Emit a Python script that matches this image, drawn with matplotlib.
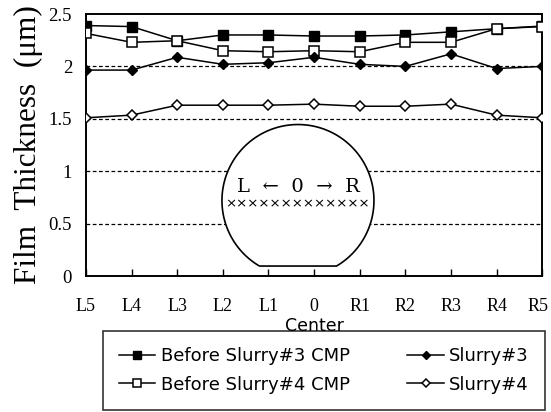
import matplotlib
matplotlib.use("Agg")
import matplotlib.pyplot as plt
import matplotlib.transforms as mtransforms
from matplotlib.patches import Polygon
import numpy as np

positions = ["L5", "L4", "L3", "L2", "L1", "0", "R1", "R2", "R3", "R4", "R5"]
before3 = [2.39, 2.38, 2.245, 2.30, 2.30, 2.29, 2.29, 2.30, 2.33, 2.36, 2.385]
before4 = [2.315, 2.23, 2.245, 2.15, 2.14, 2.15, 2.14, 2.23, 2.23, 2.36, 2.38]
slurry3 = [1.965, 1.965, 2.087, 2.02, 2.035, 2.087, 2.02, 2.0, 2.12, 1.98, 2.0]
slurry4 = [1.51, 1.535, 1.63, 1.63, 1.63, 1.64, 1.62, 1.62, 1.64, 1.535, 1.51]
yticks = [0, 0.5, 1, 1.5, 2, 2.5]
ytick_labels = ["0", "0.5", "1", "1.5", "2", "2.5"]

fig = plt.figure(figsize=(5.51, 4.12), dpi=100)
ax = fig.add_axes([0.156, 0.330, 0.828, 0.636])
x = np.arange(len(positions))

for g in [0.5, 1, 1.5, 2]:
    ax.axhline(g, color="black", lw=0.9, ls=(0, (3, 2)), zorder=1)

l1, = ax.plot(x, before3, color="black", lw=1.1, marker="s", ms=6.5, mfc="black", mec="black", zorder=3, label="Before Slurry#3 CMP")
l2, = ax.plot(x, before4, color="black", lw=1.1, marker="s", ms=6.5, mfc="white", mec="black", mew=1.1, zorder=3, label="Before Slurry#4 CMP")
l3, = ax.plot(x, slurry3, color="black", lw=1.1, marker="D", ms=5, mfc="black", mec="black", zorder=3, label="Slurry#3")
l4, = ax.plot(x, slurry4, color="black", lw=1.1, marker="D", ms=5, mfc="white", mec="black", mew=1.1, zorder=3, label="Slurry#4")

ax.set_xlim(0, 10)
ax.set_ylim(0, 2.5)
ax.set_xticks(x)
ax.set_xticklabels(positions, family="Liberation Serif", fontsize=13)
ax.set_yticks(yticks)
ax.set_yticklabels(ytick_labels, family="Liberation Serif", fontsize=13.5)
ax.tick_params(axis="x", direction="in", length=5, width=1, pad=16)
ax.tick_params(axis="y", length=0, pad=10)
for s in ax.spines.values():
    s.set_linewidth(1.4)
ax.set_ylabel("Film  Thickness  (μm)", family="Liberation Serif", fontsize=22.5, labelpad=4)
ax.set_xlabel("Center", family="DejaVu Sans", fontsize=12.5, labelpad=1)

# keep the last tick label inside the canvas
last = ax.get_xticklabels()[-1]
last.set_transform(last.get_transform() + mtransforms.ScaledTranslation(-4 / 100, 0, fig.dpi_scale_trans))

# Wafer inset drawn in axes-pixel space
w_px, h_px = 0.828 * 551, 0.636 * 412
cx, cy, r = (298 - 86) / w_px, (276 - 200.5) / h_px, 76
ang = np.linspace(0, 2 * np.pi, 400)
xs = cx + r * np.cos(ang) / w_px
ys = cy + r * np.sin(ang) / h_px
flat_y = (276 - 266) / h_px
ys = np.maximum(ys, flat_y)
ax.add_patch(Polygon(np.column_stack([xs, ys]), closed=True, fill=True, facecolor="white",
                     edgecolor="black", lw=1.2, transform=ax.transAxes, zorder=2))
ax.text(cx, (276 - 187) / h_px, "L  ←  0  →  R", transform=ax.transAxes, ha="center", va="center",
        family="DejaVu Serif", fontsize=14, zorder=4)
ax.text(cx, (276 - 204) / h_px, "×" * 13, transform=ax.transAxes, ha="center", va="center",
        family="DejaVu Sans", fontsize=9.5, zorder=4)

leg = fig.legend(handles=[l1, l2, l3, l4], ncol=2, loc="lower left",
                 bbox_to_anchor=(103 / 551, 2 / 412, (545 - 103) / 551, 82 / 412), mode="expand",
                 frameon=True, fancybox=False, edgecolor="black", markerscale=0.8,
                 handlelength=2.0, handletextpad=0.3, columnspacing=1.5, borderpad=0.9,
                 labelspacing=0.6, borderaxespad=0,
                 prop={"family": "DejaVu Sans", "size": 13})
leg.get_frame().set_linewidth(1.2)

fig.savefig("out.png", dpi=100)
